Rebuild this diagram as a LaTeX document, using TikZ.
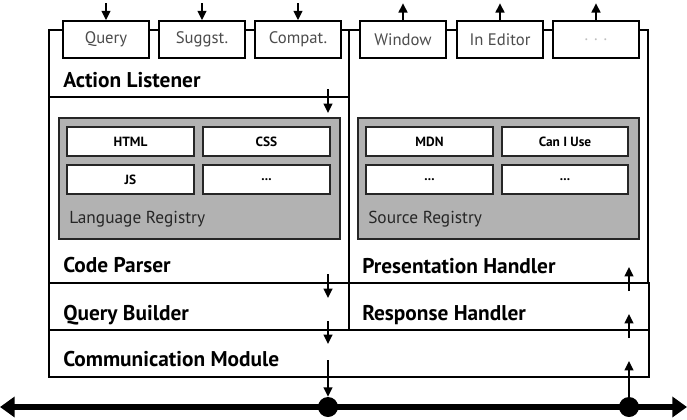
\documentclass[tikz,border=0pt]{standalone}
\usepackage{fontspec}
\setmainfont{PT Sans}
\usetikzlibrary{positioning,arrows.meta}
\tikzset{
  frame/.style={draw=black,line width=1.5pt},
  port/.style={draw=black,line width=1.5pt,fill=white,minimum width=65pt,
    minimum height=27.5pt,inner sep=0pt,text=black!70,font=\fontsize{12.5}{14}\selectfont},
  reg/.style={draw=black!85,line width=1.5pt,fill=black!30},
  item/.style={draw=black!85,line width=1.5pt,fill=white,minimum width=95pt,
    minimum height=21.5pt,inner sep=0pt,font=\bfseries\fontsize{10}{12}\selectfont},
  modname/.style={anchor=base west,inner sep=0pt,font=\bfseries\fontsize{16}{18}\selectfont},
  regname/.style={anchor=base west,inner sep=0pt,text=black!85,font=\fontsize{13}{15}\selectfont},
  flow/.style={-{Triangle[length=7pt,width=6.5pt]},line width=1.6pt},
  bus/.style={{Triangle[length=11pt,width=15pt]}-{Triangle[length=11pt,width=15pt]},line width=5pt},
  tap/.style={circle,fill=black,minimum size=15pt,inner sep=0pt},
}
\begin{document}
\begin{tikzpicture}[x=0.75pt,y=-0.75pt]
  \useasboundingbox (0,0) rectangle (687,419);
  % module frames
  \draw[frame] (49,30) rectangle (349,97);
  \draw[frame] (49,97) rectangle (349,283);
  \draw[frame] (349,30) rectangle (648,283);
  \draw[frame] (49,283) rectangle (349,330);
  \draw[frame] (349,283) rectangle (649,330);
  \draw[frame] (49,330) rectangle (649,377);
  \node[modname] (al) at (63,87) {Action Listener};
  \node[modname] (cp) at (63,272) {Code Parser};
  \node[modname] (ph) at (362,273) {Presentation Handler};
  \node[modname] (qb) at (63,320) {Query Builder};
  \node[modname] (rh) at (362,320) {Response Handler};
  \node[modname] (cm) at (63,366) {Communication Module};
  % registries
  \draw[reg] (59,118) rectangle (340,239);
  \draw[reg] (358,118) rectangle (639,239);
  \node[regname] (lr) at (69,223) {Language Registry};
  \node[regname] (sr) at (368,223) {Source Registry};
  \node[item] (html) at (130.5,141.5) {HTML};
  \node[item] (css) at (266.5,141.5) {CSS};
  \node[item] (js) at (130.5,179.5) {JS};
  \node[item] (lmore) at (266.5,179.5) {...};
  \node[item] (mdn) at (429.5,141.5) {MDN};
  \node[item] (ciu) at (565,141.5) {Can I Use};
  \node[item] (smore1) at (429.5,179.5) {...};
  \node[item] (smore2) at (565,179.5) {...};
  % input / output ports
  \node[port] (query) at (106,39.5) {Query};
  \node[port] (suggst) at (202,39.5) {Suggst.};
  \node[port] (compat) at (298,39.5) {Compat.};
  \node[port] (window) at (403,39.5) {Window};
  \node[port] (ined) at (500,39.5) {In Editor};
  \node[port,text=black!25] (omore) at (596,39.5) {. . .};
  \foreach \p in {query,suggst,compat}
    \draw[flow] (\p.north) ++(0,-17) coordinate (\p-in) -- (\p.north);
  \foreach \p in {window,ined,omore}
    \draw[flow] (\p.north) -- ++(0,-17) coordinate (\p-out);
  % bus
  \coordinate (busl) at (0,407);
  \coordinate (busr) at (687,407);
  \draw[bus] (busl) -- (busr);
  \node[tap] (send) at (328,407) {};
  \node[tap] (recv) at (629,407) {};
  % request path
  \coordinate (a1) at (328,89);  \coordinate (a2) at (328,113);
  \coordinate (a3) at (328,274); \coordinate (a4) at (328,298);
  \coordinate (a5) at (328,321); \coordinate (a6) at (328,344);
  \coordinate (a7) at (328,360);
  \draw[flow] (a1) -- (a2);
  \draw[flow] (a3) -- (a4);
  \draw[flow] (a5) -- (a6);
  \draw[flow] (a7) -- (send.north);
  % response path
  \coordinate (b1) at (629,291); \coordinate (b2) at (629,267);
  \coordinate (b3) at (629,338); \coordinate (b4) at (629,314);
  \coordinate (b5) at (629,361);
  \draw[flow] (b1) -- (b2);
  \draw[flow] (b3) -- (b4);
  \draw[flow] (recv.north) -- (b5);
\end{tikzpicture}
\end{document}
